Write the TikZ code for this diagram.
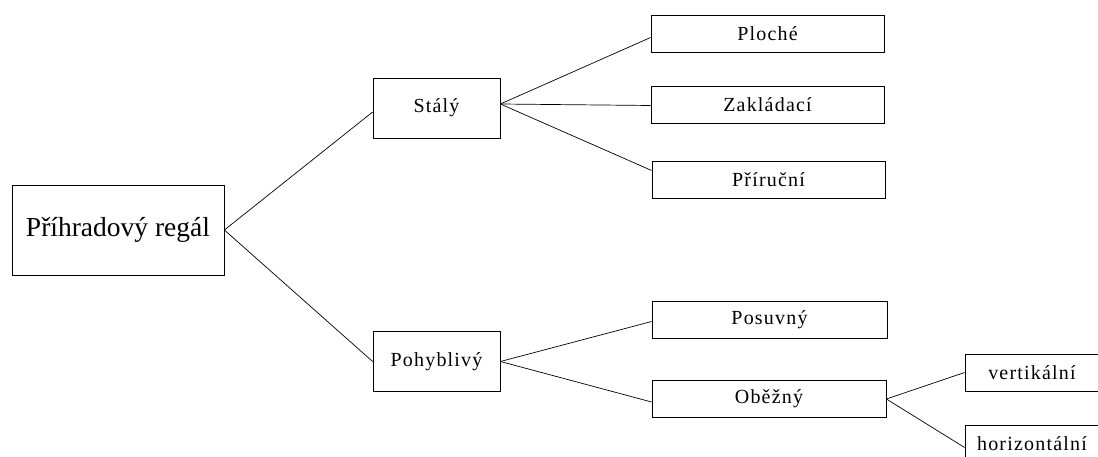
\documentclass[tikz,border=0pt]{standalone}
\usepackage{fontspec}
\setmainfont{Liberation Serif}
\newfontfamily\boxfont[LetterSpace=6]{Liberation Serif}
\begin{document}
\begin{tikzpicture}[x=1pt,y=-1pt,
  box/.style={draw, line width=0.8pt, inner sep=0pt, minimum height=37pt, minimum width=233pt,
              font=\boxfont\fontsize{20}{23}\selectfont},
  mid/.style={box, minimum width=127pt, minimum height=60pt},
  leaf/.style={box, minimum width=134pt},
  link/.style={line width=0.7pt}]
\useasboundingbox (0,0) rectangle (1098,457);
\clip (0,0) rectangle (1098,457);

% root
\node[draw, line width=0.8pt, inner sep=0pt, minimum width=212pt, minimum height=90pt,
      font=\fontsize{27.5}{31}\selectfont] (root) at (118,230) {Příhradový regál};

% second level
\node[mid] (stal) at (436.5,108) {Stálý};
\node[mid] (pohy) at (436.5,361.5) {Pohyblivý};

% third level
\node[box] (ploche) at (767.5,33.5) {Ploché};
\node[box] (zaklad) at (767.5,104.5) {Zakládací};
\node[box] (prir)   at (768.5,179.5) {Příruční};
\node[box, minimum width=235pt] (posuv) at (769.5,319.5) {Posuvný};
\node[box, minimum width=234pt] (obez)  at (769,399) {Oběžný};

% fourth level
\node[leaf] (vert) at (1032,372.5) {vertikální};
\node[leaf] (hori) at (1032,443.5) {horizontální};

% connectors
\draw[link] (root.east) -- ([yshift=-4pt]stal.west);
\draw[link] (root.east) -- (pohy.west);
\draw[link] ([yshift=4pt]stal.east) -- ([yshift=-4pt]ploche.west);
\draw[link] ([yshift=4pt]stal.east) -- ([yshift=-1pt]zaklad.west);
\draw[link] ([yshift=4pt]stal.east) -- ([yshift=9pt]prir.west);
\draw[link] (pohy.east) -- ([yshift=-2pt]posuv.west);
\draw[link] (pohy.east) -- ([yshift=-3pt]obez.west);
\draw[link] (obez.east) -- (vert.west);
\draw[link] (obez.east) -- ([yshift=-4pt]hori.west);
\end{tikzpicture}
\end{document}
